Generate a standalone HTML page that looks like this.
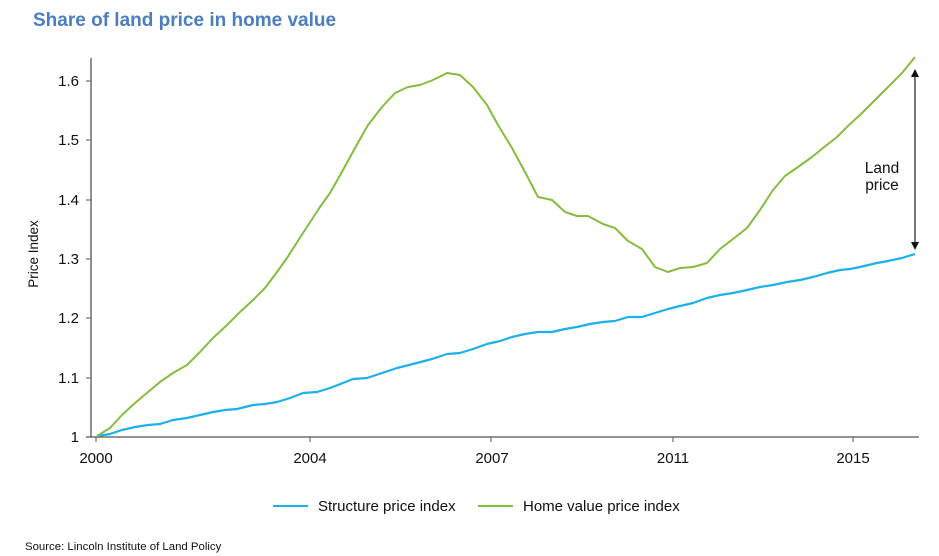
<!DOCTYPE html>
<html>
<head>
<meta charset="utf-8">
<style>
  html,body{margin:0;padding:0;background:#fff;}
  svg{display:block;}
  text{font-family:"Liberation Sans", Arial, sans-serif;}
</style>
</head>
<body>
<svg width="939" height="556" viewBox="0 0 939 556" xmlns="http://www.w3.org/2000/svg">
  <rect width="939" height="556" fill="#fff"/>
  <!-- Title -->
  <text x="33" y="26" font-size="19" font-weight="bold" fill="#4a7dc2">Share of land price in home value</text>

  <!-- Axes -->
  <line x1="91" y1="58" x2="91" y2="437" stroke="#555" stroke-width="1.3"/>
  <line x1="86" y1="437" x2="919" y2="437" stroke="#555" stroke-width="1.3"/>

  <!-- Ticks -->
  <g stroke="#555" stroke-width="1">
    <line x1="86" y1="81" x2="91" y2="81"/>
    <line x1="86" y1="140" x2="91" y2="140"/>
    <line x1="86" y1="200" x2="91" y2="200"/>
    <line x1="86" y1="259" x2="91" y2="259"/>
    <line x1="86" y1="318" x2="91" y2="318"/>
    <line x1="86" y1="378" x2="91" y2="378"/>
    <line x1="96" y1="437" x2="96" y2="442"/>
    <line x1="310" y1="437" x2="310" y2="442"/>
    <line x1="491" y1="437" x2="491" y2="442"/>
    <line x1="673" y1="437" x2="673" y2="442"/>
    <line x1="853" y1="437" x2="853" y2="442"/>
  </g>
  <g font-size="15" fill="#111" text-anchor="end">
    <text x="79" y="86">1.6</text>
    <text x="79" y="145">1.5</text>
    <text x="79" y="205">1.4</text>
    <text x="79" y="264">1.3</text>
    <text x="79" y="323">1.2</text>
    <text x="79" y="383">1.1</text>
    <text x="79" y="442">1</text>
  </g>
  <g font-size="15" fill="#111" text-anchor="middle">
    <text x="96" y="463">2000</text>
    <text x="310" y="463">2004</text>
    <text x="492" y="463">2007</text>
    <text x="673" y="463">2011</text>
    <text x="853" y="463">2015</text>
  </g>
  <text x="38" y="254" font-size="13.5" fill="#111" text-anchor="middle" transform="rotate(-90 38 254)">Price Index</text>

  <!-- Structure price index (blue) -->
  <polyline fill="none" stroke="#1cb0ec" stroke-width="2.2" stroke-linejoin="round"
    points="97,436 110,434 122,430 135,427 148,425 160,424 173,420 187,418 200,415 213,412 225,410 237,409 253,405 265,404 277,402 290,398 303,393 317,392 330,388 343,383 353,379 367,378 382,373 397,368 413,364 432,359 447,354 460,353 473,349 487,344 500,341 512,337 525,334 538,332 552,332 565,329 577,327 590,324 603,322 615,321 628,317 642,317 655,313 668,309 680,306 693,303 707,298 720,295 733,293 747,290 760,287 773,285 787,282 800,280 813,277 827,273 840,270 850,269 860,267 877,263 888,261 902,258 915,254"/>

  <!-- Home value price index (green) -->
  <polyline fill="none" stroke="#86bc3f" stroke-width="2" stroke-linejoin="round"
    points="97,436 110,428 122,415 135,403 148,392 160,382 173,373 187,365 200,352 213,338 227,325 240,312 253,300 265,288 277,272 287,258 303,233 320,207 330,193 343,170 355,148 368,125 382,107 395,93 408,87 420,85 433,80 447,73 460,75 473,87 487,105 498,125 512,148 525,172 538,197 552,200 565,212 577,216 588,216 603,224 615,228 628,241 642,249 655,267 668,272 680,268 693,267 707,263 720,249 733,239 747,228 760,210 773,190 785,176 798,167 812,157 823,148 837,137 848,126 862,113 875,100 888,87 902,73 915,57"/>

  <!-- Land price arrow -->
  <line x1="915" y1="76" x2="915" y2="243" stroke="#777" stroke-width="2"/>
  <polygon points="915,69 911,77 919,77" fill="#111"/>
  <polygon points="915,250 911,242 919,242" fill="#111"/>
  <text x="882" y="173" font-size="15.5" fill="#111" text-anchor="middle">Land</text>
  <text x="882" y="190" font-size="15.5" fill="#111" text-anchor="middle">price</text>

  <!-- Legend -->
  <line x1="273" y1="506" x2="308" y2="506" stroke="#1cb0ec" stroke-width="2"/>
  <text x="318" y="511" font-size="15" fill="#111">Structure price index</text>
  <line x1="478" y1="506" x2="513" y2="506" stroke="#86bc3f" stroke-width="2"/>
  <text x="523" y="511" font-size="15" fill="#111">Home value price index</text>

  <!-- Source -->
  <text x="25" y="550" font-size="11.4" fill="#111">Source: Lincoln Institute of Land Policy</text>
</svg>
</body>
</html>
